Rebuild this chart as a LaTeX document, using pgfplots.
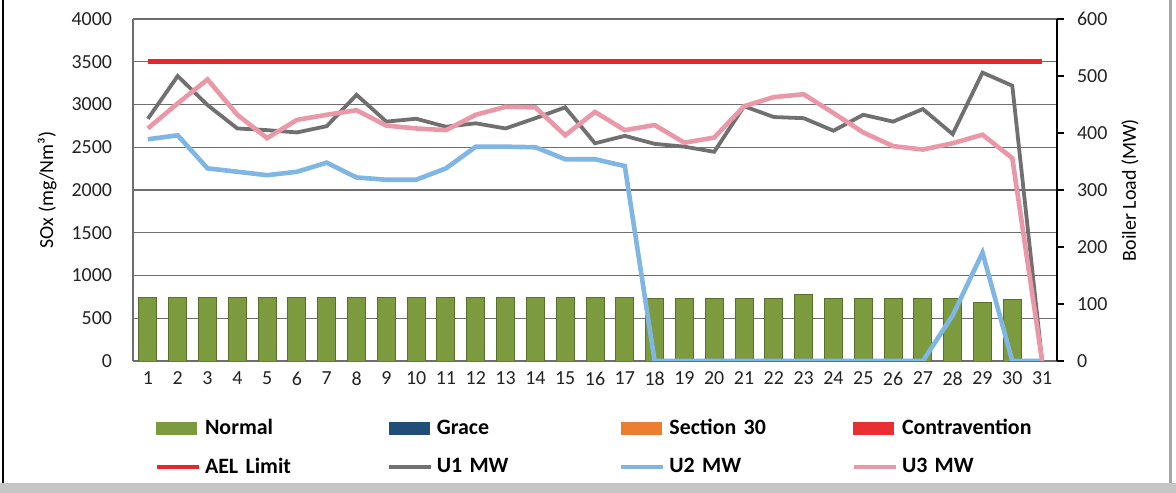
\documentclass[border=0pt]{standalone}
\usepackage{fontspec}
\setmainfont{Carlito}
\usepackage{pgfplots}
\usepackage{pgfplotstable}
\pgfplotsset{compat=1.18}

\definecolor{normalc}{RGB}{124,154,62}
\definecolor{normald}{RGB}{88,112,44}
\definecolor{gracec}{RGB}{31,78,121}
\definecolor{sectc}{RGB}{237,125,49}
\definecolor{contc}{RGB}{232,48,48}
\definecolor{aelc}{RGB}{232,38,42}
\definecolor{u1c}{RGB}{112,112,112}
\definecolor{u2c}{RGB}{128,182,228}
\definecolor{u3c}{RGB}{234,152,168}
\definecolor{txt}{RGB}{35,35,35}
\definecolor{gridc}{RGB}{110,110,110}

\pgfplotstableread{
day normal u1 u2 u3
1 745 425 389 408
2 745 500 396 452
3 745 449 338 494
4 745 408 332 432
5 745 405 326 391
6 745 401 332 423
7 745 412 348 432
8 745 467 322 440
9 745 420 318 413
10 745 425 318 408
11 745 411 338 405
12 740 417 376 432
13 740 408 376 446
14 740 426 375 445
15 740 445 354 396
16 740 382 354 437
17 740 395 342 405
18 730 381 0 414
19 730 376 0 383
20 730 367 0 392
21 730 447 0 447
22 730 428 0 463
23 780 426 0 468
24 730 404 0 435
25 730 432 0 401
26 730 420 0 377
27 730 442 0 371
28 730 398 80 382
29 680 506 190 397
30 720 483 0 356
31 0 0 0 0
}\daily

\pgfplotstableread{
day ael
1 3500
31 3500
}\ael

\begin{document}
\begin{tikzpicture}
\pgfplotsset{
  common/.style={
    scale only axis, width=462bp, height=171bp,
    xmin=0.5, xmax=31.5,
    /pgf/number format/assume math mode=true,
    /pgf/number format/1000 sep={},
    tick label style={font=\fontsize{10}{12}\selectfont, text=txt},
    label style={font=\bfseries\fontsize{10.5}{12}\selectfont, text=txt},
  },
}
\begin{axis}[common,
  ymin=0, ymax=4000, ytick={0,500,...,4000},
  xtick={1,...,31},
  axis x line*=bottom, axis y line*=left,
  axis line style={gridc, line width=0.7bp},
  major tick length=0pt,
  ymajorgrids, grid style={gridc, line width=0.6bp},
  yticklabel style={xshift=-7bp},
  xticklabel style={yshift=-2bp},
  ylabel={SOx (mg/Nm³)},
  every axis y label/.style={at={(axis description cs:-0.093,0.5)}, rotate=90, anchor=center},
]
\addplot[ybar, bar width=9bp, fill=normalc, draw=normald, line width=0.5bp] table[x=day, y=normal] {\daily};
\addplot[aelc, line width=2.5bp] table[x=day, y=ael] {\ael};
\end{axis}

\begin{axis}[common,
  ymin=0, ymax=600, ytick={0,100,...,600},
  axis y line*=right, hide x axis,
  axis line style={black, line width=0.7bp},
  ytick style={black, line width=0.6bp},
  major tick length=3.5bp, tick align=outside,
  yticklabel style={xshift=3bp},
  ylabel={Boiler Load (MW)},
  every axis y label/.style={at={(axis description cs:1.079,0.5)}, rotate=90, anchor=center},
  legend columns=4,
  legend style={draw=none, fill=none, at={(axis description cs:0.0165,-0.152)}, anchor=north west,
    font=\bfseries\fontsize{11}{13}\selectfont, text=black,
    nodes={inner sep=1bp, text width=90bp, align=left},
    /tikz/every even column/.append style={column sep=0bp},
    /tikz/every odd column/.append style={column sep=1bp},
    row sep=8bp},
  legend image code/.code={\draw[#1] (0bp,0bp) -- (21bp,0bp);},
]
\addlegendimage{legend image code/.code={\fill[normalc] (0bp,-3bp) rectangle (20bp,3bp);}}
\addlegendentry{Normal}
\addlegendimage{legend image code/.code={\fill[gracec] (0bp,-3bp) rectangle (20bp,3bp);}}
\addlegendentry{Grace}
\addlegendimage{legend image code/.code={\fill[sectc] (0bp,-3bp) rectangle (20bp,3bp);}}
\addlegendentry{Section 30}
\addlegendimage{legend image code/.code={\fill[contc] (0bp,-3bp) rectangle (20bp,3bp);}}
\addlegendentry{Contravention}
\addlegendimage{aelc, line width=2.2bp}
\addlegendentry{AEL Limit}
\addplot[u1c, line width=1.9bp] table[x=day, y=u1] {\daily};
\addlegendentry{U1 MW}
\addplot[u2c, line width=2.3bp] table[x=day, y=u2] {\daily};
\addlegendentry{U2 MW}
\addplot[u3c, line width=2.3bp] table[x=day, y=u3] {\daily};
\addlegendentry{U3 MW}
\end{axis}

\draw[black, line width=0.8bp] (-65bp,-61bp) -- (-65bp,180.5bp);
\draw[gray!70, line width=1.5bp] (518.5bp,-61bp) -- (518.5bp,180.5bp);
\fill[gray!45] (-66.5bp,-66bp) rectangle (521.5bp,-61bp);
\pgfresetboundingbox
\useasboundingbox (-66.5bp,-66bp) rectangle (521.5bp,180.5bp);
\end{tikzpicture}
\end{document}
